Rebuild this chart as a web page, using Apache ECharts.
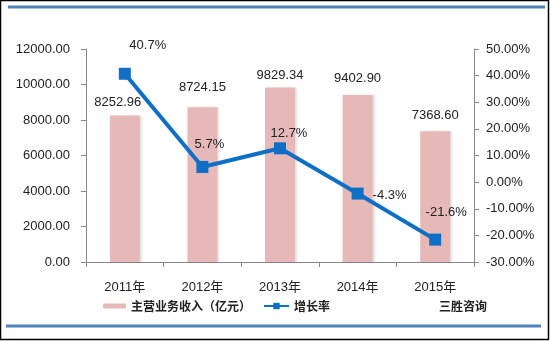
<!DOCTYPE html>
<html>
<head>
<meta charset="utf-8">
<script src="https://cdn.jsdelivr.net/npm/echarts@6/dist/echarts.min.js"></script>
<style>
  html, body { margin: 0; padding: 0; background: #fff; }
  #chart { width: 550px; height: 341px; }
</style>
</head>
<body>
<div id="chart"></div>
<script>
// Main business revenue (100 million yuan) and year-on-year growth
const years = ['2011年', '2012年', '2013年', '2014年', '2015年'];
const revenue = [8252.96, 8724.15, 9829.34, 9402.90, 7368.60];
const growth = [40.7, 5.7, 12.7, -4.3, -21.6];
const revenueName = '主营业务收入（亿元）';
const growthName = '增长率';
const sourceText = '三胜咨询';

const FONT = '"Liberation Sans", Arial, "Noto Sans CJK SC", sans-serif';
const CJK = '"Noto Sans CJK SC", sans-serif';

function growthLabelOffsets() {
  // label placement around each growth marker
  return [[23, -28], [7, -23], [9, -15], [32, 2], [11, -27]];
}

function revenueLabelOffsets() {
  // nudges for the value labels above the columns
  return [[-7, -1], [0, -7], [0, 0], [0, -4], [0, -3]];
}

const gOff = growthLabelOffsets();
const rOff = revenueLabelOffsets();

const option = {
  animation: false,
  backgroundColor: '#fff',
  grid: { left: 86, right: 76, top: 49, bottom: 79 },
  legend: [
    {
      data: [revenueName],
      left: 103, top: 300, padding: 0,
      itemWidth: 23, itemHeight: 5, itemGap: 4,
      textStyle: { fontFamily: CJK, fontSize: 12, fontWeight: 'bold', color: '#222' }
    },
    {
      data: [growthName],
      left: 263, top: 300, padding: 0,
      itemWidth: 25, itemHeight: 8, itemGap: 4,
      textStyle: { fontFamily: CJK, fontSize: 12, fontWeight: 'bold', color: '#222' }
    }
  ],
  xAxis: {
    type: 'category',
    data: years,
    boundaryGap: true,
    axisLine: { lineStyle: { color: '#888', width: 1 } },
    axisTick: { show: true, alignWithLabel: false, length: 5, lineStyle: { color: '#888' } },
    axisLabel: { fontFamily: FONT, fontSize: 13, color: '#222', margin: 19 }
  },
  yAxis: [
    {
      type: 'value',
      min: 0, max: 12000, interval: 2000,
      splitLine: { show: false },
      axisLine: { show: true, lineStyle: { color: '#888' } },
      axisTick: { show: true, length: 5, lineStyle: { color: '#888' } },
      axisLabel: {
        fontFamily: FONT, fontSize: 13, color: '#222', margin: 16,
        formatter: v => v.toFixed(2)
      }
    },
    {
      type: 'value',
      min: -30, max: 50, interval: 10,
      position: 'right',
      splitLine: { show: false },
      axisLine: { show: true, lineStyle: { color: '#888' } },
      axisTick: { show: true, length: 5, lineStyle: { color: '#888' } },
      axisLabel: {
        fontFamily: FONT, fontSize: 13, color: '#222', margin: 12,
        formatter: v => v.toFixed(2) + '%'
      }
    }
  ],
  series: [
    {
      name: revenueName,
      type: 'bar',
      data: revenue.map((v, i) => ({ value: v, label: { offset: rOff[i] } })),
      barWidth: 30,
      itemStyle: {
        color: '#E6B9B8',
        shadowColor: 'rgba(0,0,0,0.12)', shadowBlur: 2, shadowOffsetX: 2
      },
      label: {
        show: true, position: 'top', distance: 6,
        fontFamily: FONT, fontSize: 13, color: '#222',
        formatter: p => p.value.toFixed(2)
      }
    },
    {
      name: growthName,
      type: 'line',
      yAxisIndex: 1,
      data: growth.map((v, i) => ({ value: v, label: { offset: gOff[i] } })),
      symbol: 'rect',
      symbolSize: 12,
      lineStyle: { color: '#0F6FC6', width: 4 },
      itemStyle: { color: '#0F6FC6' },
      z: 5,
      label: {
        show: true, position: 'inside',
        fontFamily: FONT, fontSize: 13, color: '#222',
        formatter: p => p.value.toFixed(1) + '%'
      }
    }
  ],
  graphic: [
    { type: 'rect', shape: { x: 0.5, y: 0.5, width: 548, height: 339 },
      style: { fill: null, stroke: '#000', lineWidth: 1.5 }, silent: true },
    { type: 'line', shape: { x1: 8, y1: 7, x2: 545, y2: 7 },
      style: { stroke: '#4F81BD', lineWidth: 3 }, silent: true },
    { type: 'line', shape: { x1: 6, y1: 326, x2: 541, y2: 326 },
      style: { stroke: '#4F81BD', lineWidth: 3 }, silent: true },
    { type: 'text', left: 439, top: 300,
      style: { text: sourceText, font: 'bold 12px "Noto Sans CJK SC", sans-serif', fill: '#222' } }
  ]
};

const chart = echarts.init(document.getElementById('chart'), null, { renderer: 'canvas' });
chart.setOption(option);
</script>
</body>
</html>
